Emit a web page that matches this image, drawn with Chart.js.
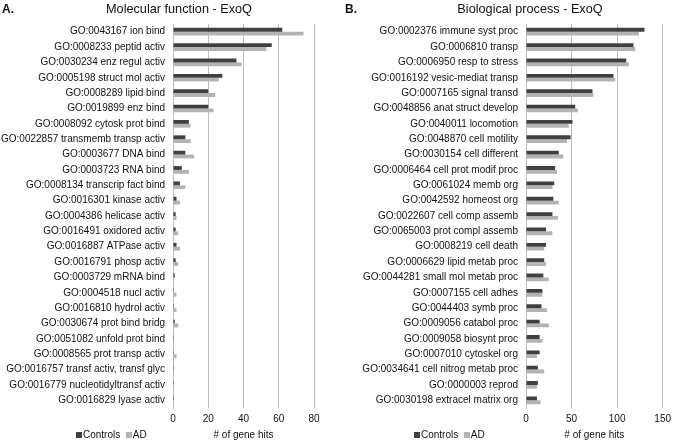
<!DOCTYPE html>
<html>
<head>
<meta charset="utf-8">
<script src="https://cdn.jsdelivr.net/npm/chart.js@4.4.0/dist/chart.umd.min.js"></script>
<style>
  body { margin: 0; background: #fff; font-family: "Liberation Sans", Arial, sans-serif; }
  #wrap { position: relative; width: 676px; height: 442px; }
  canvas { position: absolute; top: 0; }
  .panel { position: absolute; top: 2px; font-size: 12px; font-weight: bold; color: #111; }
  .ttl { position: absolute; top: 2px; font-size: 12.7px; color: #111; white-space: nowrap; transform: translateX(-50%); }
  .leg { position: absolute; top: 429px; font-size: 10px; color: #111; white-space: nowrap; }
  .sw { display: inline-block; width: 6px; height: 6px; margin-right: 1px; vertical-align: 0px; }
</style>
</head>
<body>
<div id="wrap">
  <canvas id="mf" width="338" height="442" style="left:0"></canvas>
  <canvas id="bp" width="338" height="442" style="left:338px"></canvas>
  <div class="panel" style="left:2px">A.</div>
  <div class="ttl" style="left:179px">Molecular function - ExoQ</div>
  <div class="panel" style="left:345px">B.</div>
  <div class="ttl" style="left:530px">Biological process - ExoQ</div>
  <div class="leg" style="left:76px"><span class="sw" style="background:#404040"></span>Controls &nbsp;<span class="sw" style="background:#b3b3b3"></span>AD</div>
  <div class="leg" style="left:414px"><span class="sw" style="background:#404040"></span>Controls &nbsp;<span class="sw" style="background:#b3b3b3"></span>AD</div>
</div>
<script>
// Molecular function
const mfLabels = ['GO:0043167 ion bind','GO:0008233 peptid activ','GO:0030234 enz regul activ','GO:0005198 struct mol activ',
  'GO:0008289 lipid bind','GO:0019899 enz bind','GO:0008092 cytosk prot bind','GO:0022857 transmemb transp activ',
  'GO:0003677 DNA bind','GO:0003723 RNA bind','GO:0008134 transcrip fact bind','GO:0016301 kinase activ',
  'GO:0004386 helicase activ','GO:0016491 oxidored activ','GO:0016887 ATPase activ','GO:0016791 phosp activ',
  'GO:0003729 mRNA bind','GO:0004518 nucl activ','GO:0016810 hydrol activ','GO:0030674 prot bind bridg',
  'GO:0051082 unfold prot bind','GO:0008565 prot transp activ','GO:0016757 transf activ, transf glyc',
  'GO:0016779 nucleotidyltransf activ','GO:0016829 lyase activ'];
const mfControls = [62,56,36,28,20,20,9,7,7,5,4,2,1.5,1.5,2,1.5,1,0.5,0.5,1,0.5,0.5,0.5,0.5,0.5];
const mfAD       = [74,53,39,26,24,23,10,10,12,9,7,4,2,3,4,3,0.5,2,2,3,0.5,2,0.3,0.3,0.3];
const mfMax = 80, mfStep = 20;

// Biological process
const bpLabels = ['GO:0002376 immune syst proc','GO:0006810 transp','GO:0006950 resp to stress','GO:0016192 vesic-mediat transp',
  'GO:0007165 signal transd','GO:0048856 anat struct develop','GO:0040011 locomotion','GO:0048870 cell motility',
  'GO:0030154 cell different','GO:0006464 cell prot modif proc','GO:0061024 memb org','GO:0042592 homeost org',
  'GO:0022607 cell comp assemb','GO:0065003 prot compl assemb','GO:0008219 cell death','GO:0006629 lipid metab proc',
  'GO:0044281 small mol metab proc','GO:0007155 cell adhes','GO:0044403 symb proc','GO:0009056 catabol proc',
  'GO:0009058 biosynt proc','GO:0007010 cytoskel org','GO:0034641 cell nitrog metab proc','GO:0000003 reprod',
  'GO:0030198 extracel matrix org'];
const bpControls = [130,118,110,96,73,54,51,49,36,32,31,30,29,22,22,20,19,18,17,15,15,15,13,13,12];
const bpAD       = [124,120,113,98,74,57,47,45,41,34,29,36,35,29,20,22,25,18,23,25,18,12,20,12,16];
const bpMax = 150, bpStep = 50;

const darkCol = '#404040';
const lightCol = '#b3b3b3';
const gridCol = '#bdbdbd';
const font = 'Liberation Sans';

function makeChart(id, labels, controls, ad, max, step, yWidth, padRight) {
  return new Chart(document.getElementById(id), {
    type: 'bar',
    data: {
      labels: labels,
      datasets: [
        { label: 'Controls', data: controls, backgroundColor: darkCol },
        { label: 'AD', data: ad, backgroundColor: lightCol }
      ]
    },
    options: {
      indexAxis: 'y',
      responsive: false,
      animation: false,
      datasets: { bar: { categoryPercentage: 0.5, barPercentage: 1.0 } },
      layout: { padding: { top: 24, right: padRight, left: 0, bottom: 0 } },
      plugins: { legend: { display: false }, tooltip: { enabled: false } },
      scales: {
        x: {
          min: 0, max: max,
          ticks: { stepSize: step, color: '#111', padding: 5, font: { family: font, size: 10 } },
          grid: { color: gridCol, drawTicks: false },
          border: { display: false },
          title: { display: true, text: '# of gene hits', color: '#111', padding: { top: 2, bottom: 1 }, font: { family: font, size: 10 } },
          afterFit: function (s) { s.height = 34; }
        },
        y: {
          ticks: { color: '#111', padding: 8, autoSkip: false, font: { family: font, size: 10 } },
          grid: { display: false, drawTicks: false },
          border: { display: true, color: gridCol },
          afterFit: function (s) { s.width = yWidth; }
        }
      }
    }
  });
}

makeChart('mf', mfLabels, mfControls, mfAD, mfMax, mfStep, 173, 24);
makeChart('bp', bpLabels, bpControls, bpAD, bpMax, bpStep, 188, 8);
</script>
</body>
</html>
